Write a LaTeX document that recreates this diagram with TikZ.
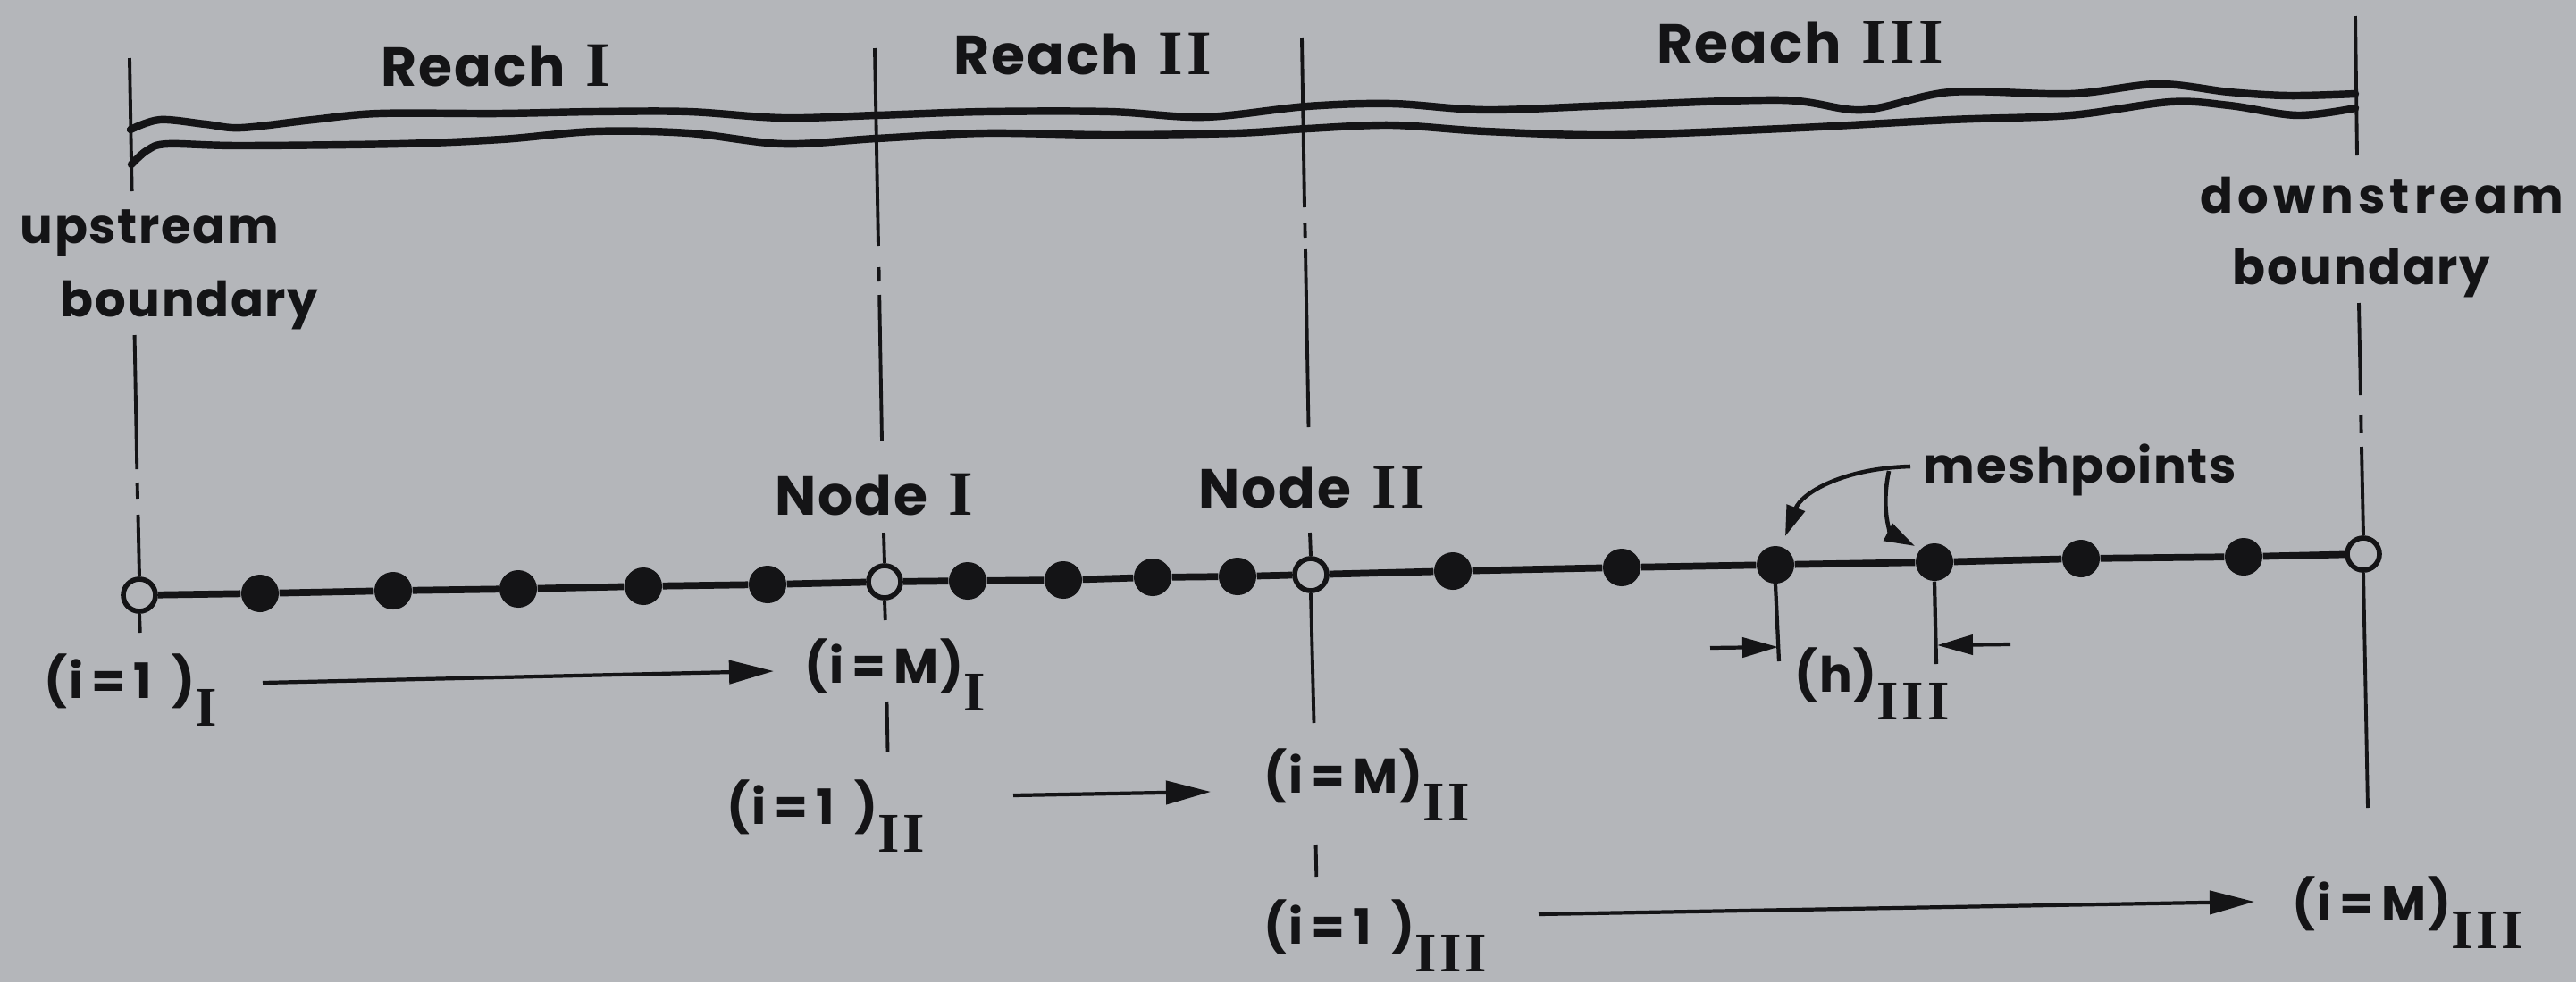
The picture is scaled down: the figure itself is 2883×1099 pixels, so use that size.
\documentclass[tikz,border=0pt]{standalone}
\usepackage{fontspec}
\setmainfont{Poppins}[LetterSpace=3]
\newfontfamily\romfont{Liberation Serif}[Scale=1.15, LetterSpace=6]
\usetikzlibrary{arrows.meta}
\definecolor{paper}{RGB}{180,182,186}
\definecolor{ink}{RGB}{20,20,22}
% serif roman numerals and lowered indices
\newcommand{\rmn}[1]{{\romfont\bfseries #1}}
\newcommand{\lowsub}[1]{\raisebox{-0.31cm}{\rmn{#1}}}
\newcommand{\ione}{(i\,=\,1\ \,)}
\newcommand{\iM}{(i\,=\,M)}
\tikzset{
  lbl/.style={font=\fontsize{15.5}{18}\selectfont\bfseries, inner sep=0pt, text=ink},
  title/.style={lbl, font=\fontsize{17.5}{20}\selectfont\bfseries},
  bank/.style={draw=ink, line width=2.4pt, line cap=round, line join=round},
  axisline/.style={draw=ink, line width=2.2pt},
  vline/.style={draw=ink, line width=1.1pt},
  flow/.style={draw=ink, line width=1.2pt, -{Triangle[length=0.5cm, width=0.26cm]}},
  dimarrow/.style={draw=ink, line width=1.2pt, -{Triangle[length=0.4cm, width=0.22cm]}},
  pointer/.style={draw=ink, line width=1.3pt, -{Triangle[length=0.34cm, width=0.21cm]}},
  meshdot/.style={circle, fill=ink, inner sep=0pt, minimum size=0.42cm},
  junction/.style={circle, draw=ink, line width=1.6pt, fill=paper, inner sep=0pt, minimum size=0.36cm},
}
\begin{document}
\begin{tikzpicture}[x=0.01cm, y=-0.01cm]
\fill[paper] (0,0) rectangle (2883,1099);
\useasboundingbox (0,0) rectangle (2883,1099);

% ---- river banks ----
\draw[bank] plot[smooth, tension=0.55] coordinates {
  (146,145) (179,134) (230,139) (270,143) (350,134) (424,127) (558,127)
  (666,125) (771,125) (876,132) (981,129) (1102,125) (1242,125) (1348,131)
  (1463,119) (1558,116) (1663,123) (1803,118) (1994,112) (2085,123)
  (2183,103) (2317,105) (2415,94) (2495,103) (2562,107) (2636,105)};
\draw[bank] plot[smooth, tension=0.55] coordinates {
  (147,184) (165,168) (188,161) (268,163) (446,161) (561,156) (666,147)
  (771,149) (876,161) (981,155) (1102,149) (1242,151) (1383,149)
  (1463,144) (1558,140) (1663,147) (1803,151) (1994,144) (2183,134)
  (2317,129) (2429,114) (2495,118) (2571,129) (2636,121)};

% ---- mesh along the stream ----
\node[junction] (up) at (156,666) {};
\node[meshdot] (a1) at (291,664) {};
\node[meshdot] (a2) at (440,661) {};
\node[meshdot] (a3) at (580,659) {};
\node[meshdot] (a4) at (720,656) {};
\node[meshdot] (a5) at (859,654) {};
\node[junction] (n1) at (990,651) {};
\node[meshdot] (b1) at (1083,650) {};
\node[meshdot] (b2) at (1190,649) {};
\node[meshdot] (b3) at (1290,646) {};
\node[meshdot] (b4) at (1385,645) {};
\node[junction] (n2) at (1467,643) {};
\node[meshdot] (c1) at (1626,639) {};
\node[meshdot] (c2) at (1815,635) {};
\node[meshdot] (c3) at (1987,632) {};
\node[meshdot] (c4) at (2165,629) {};
\node[meshdot] (c5) at (2329,625) {};
\node[meshdot] (c6) at (2511,623) {};
\node[junction] (dn) at (2645,620) {};
\draw[axisline] (up) -- (a1) -- (a2) -- (a3) -- (a4) -- (a5) -- (n1)
  -- (b1) -- (b2) -- (b3) -- (b4) -- (n2)
  -- (c1) -- (c2) -- (c3) -- (c4) -- (c5) -- (c6) -- (dn);

% ---- labels ----
\node[title, anchor=base west] (r1) at (426,96) {Reach\hspace{0.08cm} \rmn{I}};
\node[title, anchor=base west] (r2) at (1067,83) {Reach\hspace{0.08cm} \rmn{II}};
\node[title, anchor=base west] (r3) at (1854,70) {Reach\hspace{0.08cm} \rmn{III}};
\node[lbl, anchor=base west] (ub1) at (22,272) {upstream};
\node[lbl, anchor=base west] (ub2) at (67,354) {boundary};
\node[lbl, anchor=base west] (db1) at (2462,238) {\addfontfeature{LetterSpace=9.5}downstream};
\node[lbl, anchor=base west] (db2) at (2498,318) {boundary};
\node[title, anchor=base west] (t1) at (867,576) {Node\hspace{0.08cm} \rmn{I}};
\node[title, anchor=base west] (t2) at (1341,568) {Node\hspace{0.08cm} \rmn{II}};
\node[lbl, anchor=base west] (mp) at (2152,540) {meshpoints};
\node[lbl, anchor=base west] (i1a) at (49,781) {\ione\lowsub{I}};
\node[lbl, anchor=base west] (iMa) at (900,764) {\iM\lowsub{I}};
\node[lbl, anchor=base west] (i1b) at (813,922) {\ione\lowsub{II}};
\node[lbl, anchor=base west] (iMb) at (1414,887) {\iM\lowsub{II}};
\node[lbl, anchor=base west] (i1c) at (1414,1056) {\ione\lowsub{III}};
\node[lbl, anchor=base west] (iMc) at (2565,1030) {\iM\lowsub{III}};
\node[lbl, anchor=base west] (hh) at (2008,774) {(h)\lowsub{III}};

% ---- upstream boundary line ----
\draw[vline] (145,65) -- (147.6,214);
\draw[vline] (150.6,375) -- (153.3,525);
\draw[vline] (153.6,540) -- (154,558);
\draw[vline] (154.5,576) -- (up.north);
\draw[vline] (up.south) -- (156.8,708);

% ---- Node I line ----
\draw[vline] (979,54) -- (983,275);
\draw[vline] (983.5,299) -- (983.8,315);
\draw[vline] (984.2,330) -- (987,493);
\draw[vline] (989,596) -- (n1.north);
\draw[vline] (n1.south) -- (990.8,694);
\draw[vline] (992.5,785) -- (993.5,841);

% ---- Node II line ----
\draw[vline] (1457,42) -- (1460,232);
\draw[vline] (1460.4,250) -- (1460.7,266);
\draw[vline] (1461,279) -- (1464.5,478);
\draw[vline] (1466,596) -- (n2.north);
\draw[vline] (n2.south) -- (1470.5,809);
\draw[vline] (1472.6,946) -- (1473.3,981);

% ---- downstream boundary line ----
\draw[vline] (2636,18) -- (2638,174);
\draw[vline] (2640,339) -- (2642,442);
\draw[vline] (2642.3,464) -- (2642.6,484);
\draw[vline] (2643,500) -- (dn.north);
\draw[vline] (dn.south) -- (2650,904);

% ---- index ranges ----
\coordinate (f1s) at (294,764);  \coordinate (f1e) at (866,751);
\coordinate (f2s) at (1134,890); \coordinate (f2e) at (1355,886);
\coordinate (f3s) at (1722,1023); \coordinate (f3e) at (2523,1009);
\draw[flow] (f1s) -- (f1e);
\draw[flow] (f2s) -- (f2e);
\draw[flow] (f3s) -- (f3e);

% ---- mesh spacing h ----
\coordinate (h1) at (1991,740);
\coordinate (h2) at (2167,743);
\draw[vline, line width=1.2pt] (c3.south) -- (h1);
\draw[vline, line width=1.2pt] (c4.south) -- (h2);
\coordinate (hl) at (1914,725); \coordinate (hlt) at (1990,724);
\coordinate (hr) at (2250,721); \coordinate (hrt) at (2168,722);
\draw[dimarrow] (hl) -- (hlt);
\draw[dimarrow] (hr) -- (hrt);

% ---- meshpoints pointers ----
\coordinate (pa) at (2138,522);
\coordinate (pb) at (2114,527);
\coordinate (ta) at (1998,600);
\coordinate (tb) at (2143,611);
\draw[pointer] (pa) .. controls (2062,524) and (2016,552) .. (ta);
\draw[pointer] (pb) .. controls (2104,575) and (2118,598) .. (tb);
\end{tikzpicture}
\end{document}
